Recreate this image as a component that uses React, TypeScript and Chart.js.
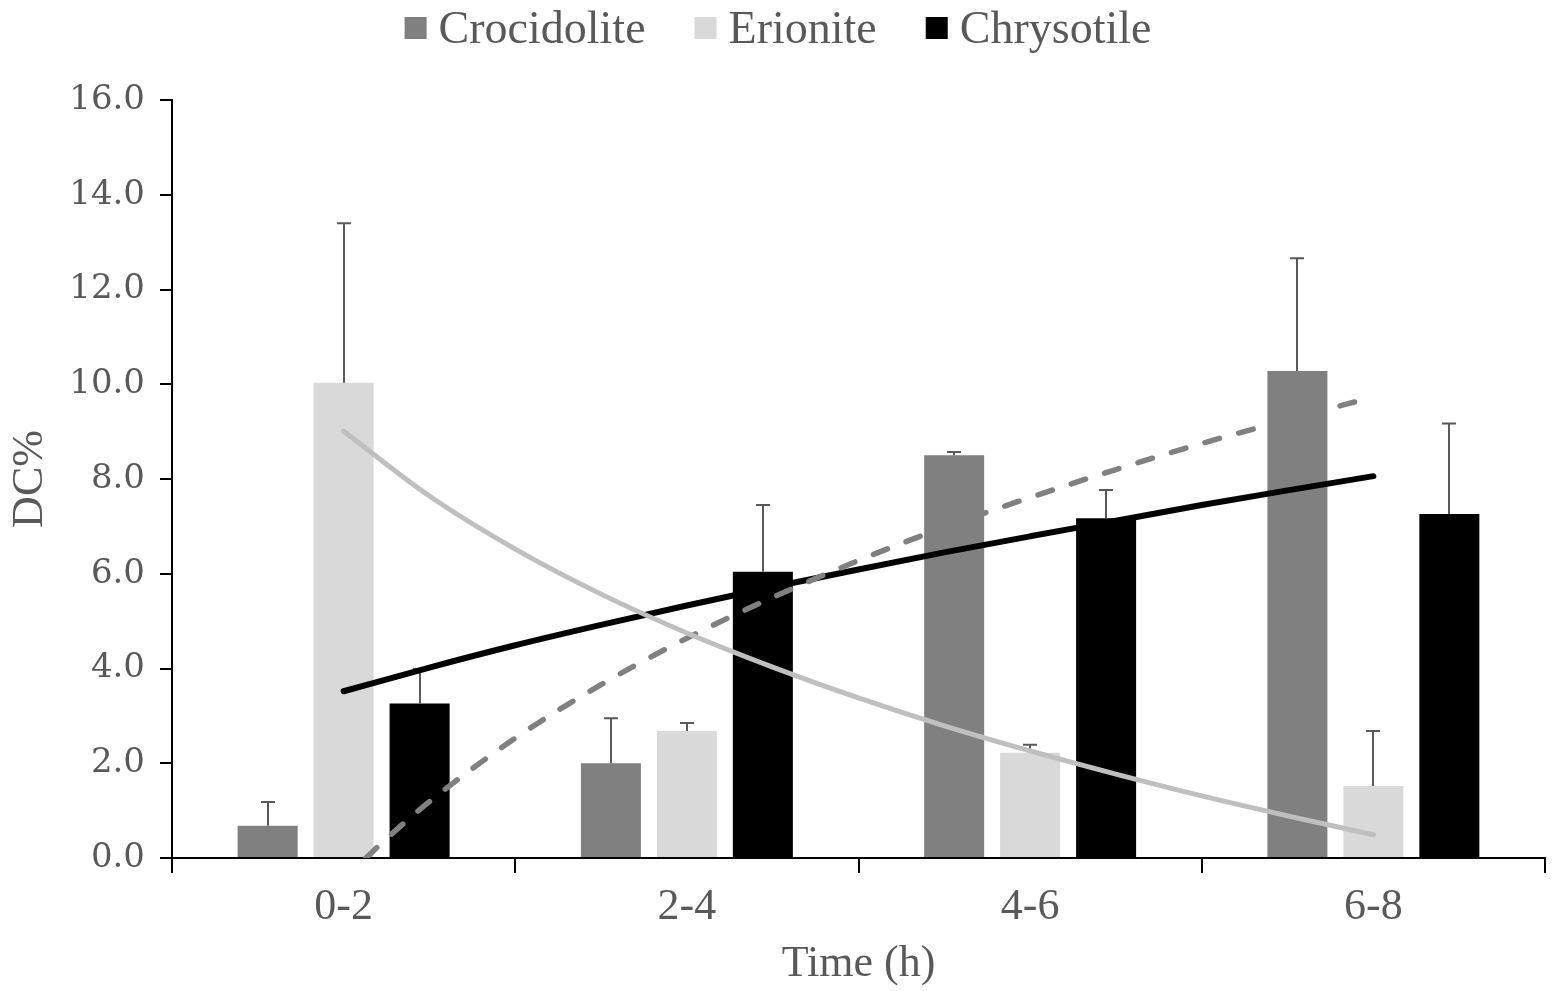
import React, { useEffect, useRef } from 'react';
import { Chart, registerables } from 'chart.js';

Chart.register(...registerables);

// ---- Data ----
const categories = ['0-2', '2-4', '4-6', '6-8'];
const seriesNames = ['Crocidolite', 'Erionite', 'Chrysotile'];
const seriesColors = ['#808080', '#d9d9d9', '#000000'];

const crocidolite = [0.68, 2.0, 8.5, 10.28];
const crocidoliteErr = [0.5, 0.95, 0.07, 2.38];
const erionite = [10.03, 2.68, 2.22, 1.52];
const erioniteErr = [3.37, 0.17, 0.17, 1.16];
const chrysotile = [3.26, 6.04, 7.17, 7.26];
const chrysotileErr = [0.73, 1.41, 0.6, 1.91];

const yTickValues = [0, 2, 4, 6, 8, 10, 12, 14, 16];
// category boundaries on the x axis (category k is centred on k)
const xBoundaries = [0.5, 1.5, 2.5, 3.5, 4.5];

// Trend lines (x in category units: 1 = "0-2")
const trendX = [1, 1.25, 1.5, 1.75, 2, 2.25, 2.5, 2.75, 3, 3.25, 3.5, 3.75, 4];
const erioniteTrend = [9.01, 7.64, 6.52, 5.57, 4.75, 4.03, 3.38, 2.79, 2.26, 1.77, 1.31, 0.89, 0.49];
const chrysotileTrend = [3.52, 4.02, 4.49, 4.92, 5.33, 5.72, 6.09, 6.45, 6.79, 7.12, 7.45, 7.76, 8.06];
const crocidoliteTrendX = [1.065, 1.125, 1.25, 1.5, 1.75, 2, 2.25, 2.5, 2.75, 3, 3.25, 3.5, 3.75, 4];
const crocidoliteTrend = [0.0, 0.41, 1.19, 2.53, 3.66, 4.64, 5.5, 6.28, 6.98, 7.61, 8.2, 8.75, 9.25, 9.73];

const SERIF = "'Liberation Serif', 'Times New Roman', serif";
const TEXT = '#595959';

const errorSets = [crocidoliteErr, erioniteErr, chrysotileErr];
const valueSets = [crocidolite, erionite, chrysotile];

const errorBarPlugin = {
  id: 'errorBars',
  afterDatasetDraw(chart: any, args: any) {
    const meta = args.meta;
    if (meta.type !== 'bar') return;
    const idx = meta.index;
    const errs = errorSets[idx];
    const vals = valueSets[idx];
    if (!errs) return;
    const ctx = chart.ctx;
    const yScale = chart.scales.y;
    ctx.save();
    ctx.strokeStyle = '#595959';
    ctx.lineWidth = 2;
    meta.data.forEach((el: any, i: number) => {
      const x = Math.round(el.x);
      const yTop = yScale.getPixelForValue(vals[i] + errs[i]);
      const yBase = el.y;
      ctx.beginPath();
      ctx.moveTo(x, yBase);
      ctx.lineTo(x, yTop);
      ctx.moveTo(x - 7, yTop);
      ctx.lineTo(x + 7, yTop);
      ctx.stroke();
    });
    ctx.restore();
  },
};

const legendPlugin = {
  id: 'customLegend',
  afterDraw(chart: any) {
    const ctx = chart.ctx;
    ctx.save();
    ctx.font = `46px ${SERIF}`;
    const sq = 22;
    const gapText = 12;
    const gapItem = 49;
    const widths = seriesNames.map((n) => ctx.measureText(n).width);
    const total =
      widths.reduce((a, w) => a + sq + gapText + w, 0) + gapItem * (seriesNames.length - 1);
    let x = 778 - total / 2;
    seriesNames.forEach((n, i) => {
      ctx.fillStyle = seriesColors[i];
      ctx.fillRect(x, 17, sq, sq);
      x += sq + gapText;
      ctx.fillStyle = TEXT;
      ctx.textBaseline = 'alphabetic';
      ctx.textAlign = 'left';
      ctx.fillText(n, x, 43);
      x += widths[i] + gapItem;
    });
    ctx.restore();
  },
};

export default function App() {
  const canvasRef = useRef<HTMLCanvasElement | null>(null);

  useEffect(() => {
    if (!canvasRef.current) return;
    const barCommon = {
      type: 'bar' as const,
      order: 2,
      categoryPercentage: 0.664,
      barPercentage: 0.79,
      borderWidth: 0,
    };
    const lineCommon = {
      type: 'line' as const,
      order: 1,
      pointRadius: 0,
      fill: false,
      cubicInterpolationMode: 'monotone' as const,
      borderCapStyle: 'round' as const,
      borderJoinStyle: 'round' as const,
    };
    const barData = (vals: number[]) => categories.map((_, i) => ({ x: i + 1, y: vals[i] }));
    const plotWidth = 1545 - 172;
    const chart = new Chart(canvasRef.current, {
      type: 'bar',
      data: {
        datasets: [
          { ...barCommon, label: seriesNames[0], data: barData(crocidolite), backgroundColor: seriesColors[0] },
          { ...barCommon, label: seriesNames[1], data: barData(erionite), backgroundColor: seriesColors[1] },
          { ...barCommon, label: seriesNames[2], data: barData(chrysotile), backgroundColor: seriesColors[2] },
          {
            ...lineCommon,
            label: 'Erionite trend',
            data: trendX.map((x, i) => ({ x, y: erioniteTrend[i] })),
            borderColor: '#bfbfbf',
            borderWidth: 5,
          },
          {
            ...lineCommon,
            label: 'Crocidolite trend',
            data: crocidoliteTrendX.map((x, i) => ({ x, y: crocidoliteTrend[i] })),
            borderColor: '#808080',
            borderWidth: 5.5,
            borderDash: [15, 20],
          },
          {
            ...lineCommon,
            label: 'Chrysotile trend',
            data: trendX.map((x, i) => ({ x, y: chrysotileTrend[i] })),
            borderColor: '#000000',
            borderWidth: 6,
          },
        ] as any,
      },
      options: {
        responsive: false,
        animation: false,
        devicePixelRatio: 1,
        events: [],
        layout: { padding: { top: 100, right: 15, left: 0, bottom: 0 } },
        plugins: {
          legend: { display: false },
          tooltip: { enabled: false },
          title: { display: false },
        },
        scales: {
          x: {
            type: 'linear',
            min: 0.5,
            max: 4.5,
            offset: false,
            afterBuildTicks: (s: any) => {
              s.ticks = xBoundaries.map((v) => ({ value: v }));
            },
            grid: {
              offset: false,
              drawOnChartArea: false,
              drawTicks: true,
              tickLength: 15,
              color: '#000',
              lineWidth: 2,
            },
            border: { color: '#000', width: 2 },
            ticks: {
              font: { family: SERIF, size: 44 },
              color: TEXT,
              padding: 8,
              autoSkip: false,
              maxRotation: 0,
              minRotation: 0,
              labelOffset: plotWidth / 8,
              callback: (v: any) => {
                const i = Math.round(Number(v) - 0.5);
                return categories[i] ?? '';
              },
            },
            title: {
              display: true,
              text: 'Time (h)',
              font: { family: SERIF, size: 44 },
              color: TEXT,
              padding: 0,
            },
            afterFit: (s: any) => {
              s.height = 133;
            },
          },
          y: {
            min: 0,
            max: 16,
            afterBuildTicks: (s: any) => {
              s.ticks = yTickValues.map((v) => ({ value: v }));
            },
            ticks: {
              font: { family: "'DejaVu Serif', serif", size: 34 },
              color: TEXT,
              padding: 15,
              callback: (v: any) => Number(v).toFixed(1),
            },
            grid: {
              drawOnChartArea: false,
              drawTicks: true,
              tickLength: 12,
              color: '#000',
              lineWidth: 2,
            },
            border: { color: '#000', width: 2 },
            title: {
              display: true,
              text: 'DC%',
              font: { family: SERIF, size: 44 },
              color: TEXT,
              padding: { top: 4, bottom: 0 },
            },
            afterFit: (s: any) => {
              s.width = 172;
            },
          },
        } as any,
      },
      plugins: [errorBarPlugin, legendPlugin],
    });
    return () => chart.destroy();
  }, []);

  return (
    <div style={{ position: 'absolute', left: 0, top: 0, width: 1560, height: 991, background: '#fff' }}>
      <canvas ref={canvasRef} width={1560} height={991} style={{ width: 1560, height: 991 }} />
    </div>
  );
}
